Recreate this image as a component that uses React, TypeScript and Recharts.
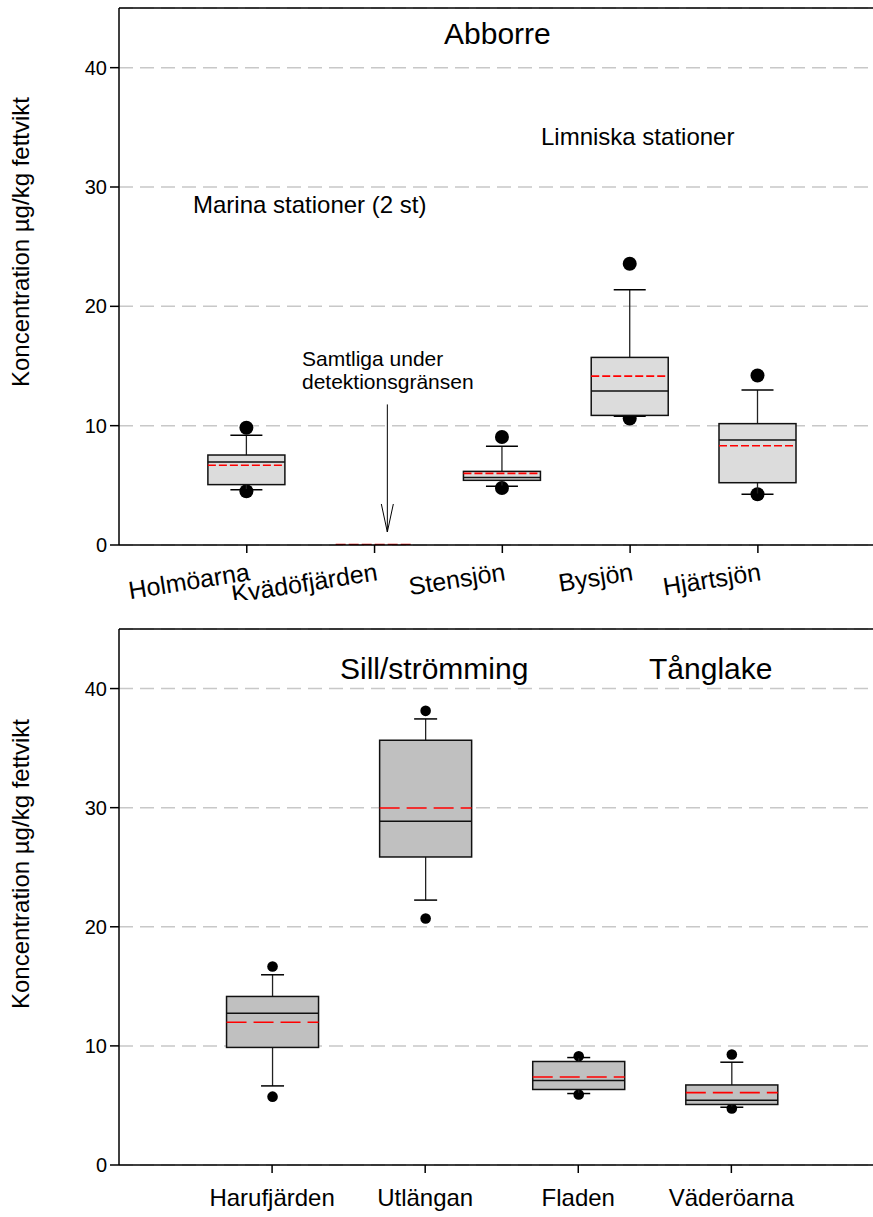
import React from 'react';
import { ComposedChart, Bar, XAxis, YAxis, CartesianGrid, ReferenceLine } from 'recharts';

const FONT = '"Liberation Sans", Arial, sans-serif';

// Abborre (upper panel)
const topStations = ['Holmöarna', 'Kvädöfjärden', 'Stensjön', 'Bysjön', 'Hjärtsjön'];
const topLowOut = [4.5, null, 4.78, 10.6, 4.25];
const topLowCap = [4.64, null, 4.92, 10.78, 4.25];
const topQ1 = [5.06, null, 5.42, 10.86, 5.22];
const topMedian = [6.95, null, 5.65, 12.9, 8.8];
const topMean = [6.68, 0, 6.0, 14.15, 8.32];
const topQ3 = [7.54, null, 6.17, 15.72, 10.17];
const topHighCap = [9.19, null, 8.27, 21.39, 12.98];
const topHighOut = [9.83, null, 9.05, 23.57, 14.21];

// Sill/strömming + Tånglake (lower panel)
const botStations = ['Harufjärden', 'Utlängan', 'Fladen', 'Väderöarna'];
const botLowOut = [5.74, 20.7, 5.92, 4.74];
const botLowCap = [6.64, 22.24, 6.0, 4.85];
const botQ1 = [9.87, 25.86, 6.34, 5.08];
const botMedian = [12.75, 28.85, 7.09, 5.44];
const botMean = [11.99, 29.97, 7.39, 6.08];
const botQ3 = [14.15, 35.66, 8.69, 6.72];
const botHighCap = [15.97, 37.45, 9.02, 8.63];
const botHighOut = [16.67, 38.13, 9.13, 9.28];

const yTicks = [0, 10, 20, 30, 40];

// arrow in the upper panel (data units)
const arrowX = 1.1;
const arrowFrom = 11.78;
const arrowTo = 1.09;

const build = (names, lowOut, lowCap, q1, med, mean, q3, highCap, highOut) =>
  names.map((name, i) => ({
    x: i,
    name,
    lowOut: lowOut[i],
    lowCap: lowCap[i],
    q1: q1[i],
    median: med[i],
    mean: mean[i],
    q3: q3[i],
    highCap: highCap[i],
    highOut: highOut[i],
  }));

const topData = build(topStations, topLowOut, topLowCap, topQ1, topMedian, topMean, topQ3, topHighCap, topHighOut);
const botData = build(botStations, botLowOut, botLowCap, botQ1, botMedian, botMean, botQ3, botHighCap, botHighOut);

const boxShape = (opt) => (props) => {
  const { x, y, width, height, payload: p } = props;
  const cx = x + width / 2;
  const lo = p.lowOut ?? 0;
  const hi = p.highOut ?? 0;
  const top = Math.min(y, y + height);
  const bottom = Math.max(y, y + height);
  if (hi === lo || p.q1 == null) {
    return (
      <line x1={x} x2={x + width} y1={bottom} y2={bottom} stroke="#e00000" strokeWidth={2.5} strokeDasharray="10 3" />
    );
  }
  const Y = (v) => bottom - ((v - lo) * (bottom - top)) / (hi - lo);
  const cw = opt.cap / 2;
  return (
    <g>
      <circle cx={cx} cy={Y(p.lowOut)} r={opt.r} fill="#000" />
      <circle cx={cx} cy={Y(p.highOut)} r={opt.r} fill="#000" />
      <line x1={cx} x2={cx} y1={Y(p.q3)} y2={Y(p.highCap)} stroke="#222" strokeWidth={1.3} />
      <line x1={cx} x2={cx} y1={Y(p.q1)} y2={Y(p.lowCap)} stroke="#222" strokeWidth={1.3} />
      <line x1={cx - cw} x2={cx + cw} y1={Y(p.highCap)} y2={Y(p.highCap)} stroke="#000" strokeWidth={1.5} />
      <line x1={cx - cw} x2={cx + cw} y1={Y(p.lowCap)} y2={Y(p.lowCap)} stroke="#000" strokeWidth={1.5} />
      <rect x={x} y={Y(p.q3)} width={width} height={Y(p.q1) - Y(p.q3)} fill={opt.fill} stroke="#111" strokeWidth={1.5} />
      <line x1={x} x2={x + width} y1={Y(p.median)} y2={Y(p.median)} stroke="#111" strokeWidth={1.5} />
      <line x1={x} x2={x + width} y1={Y(p.mean)} y2={Y(p.mean)} stroke="#ff0000" strokeWidth={1.6} strokeDasharray={opt.dash} />
    </g>
  );
};

const TopTick = ({ x, y, payload }) => {
  const tx = x + 4;
  const ty = y + 25;
  return (
    <text x={tx} y={ty} transform={`rotate(-9, ${tx}, ${ty})`} textAnchor="end" fontSize={25} fill="#000" fontFamily={FONT}>
      {topStations[payload.value]}
    </text>
  );
};

const BotTick = ({ x, y, payload }) => (
  <text x={x} y={y + 31} textAnchor="middle" fontSize={24} fill="#000" fontFamily={FONT}>
    {botStations[payload.value]}
  </text>
);

const arrowShape = (props) => {
  const { x1, y1, x2, y2 } = props;
  return (
    <g>
      <line x1={x1} y1={y1} x2={x2} y2={y2} stroke="#000" strokeWidth={1} />
      <polyline points={`${x2 - 6},${y2 - 28} ${x2},${y2} ${x2 + 6},${y2 - 28}`} fill="none" stroke="#000" strokeWidth={1} />
    </g>
  );
};

const yTickStyle = { fontSize: 20, fill: '#000', fontFamily: FONT };

const Panel = ({ data, width, height, marginTop, xHeight, domainMax, barSize, opt, tick, children }) => (
  <ComposedChart width={width} height={height} data={data} margin={{ top: marginTop, right: 15, left: 0, bottom: 0 }}>
    <CartesianGrid horizontal vertical={false} stroke="#c8c8c8" strokeWidth={1.5} strokeDasharray="14 7" />
    <XAxis
      dataKey="x"
      type="number"
      domain={[-1, domainMax]}
      ticks={data.map((d) => d.x)}
      allowDataOverflow
      height={xHeight}
      stroke="#000"
      strokeWidth={1.5}
      tickSize={8}
      tick={tick}
      interval={0}
    />
    <YAxis
      type="number"
      domain={[0, 45]}
      ticks={yTicks}
      allowDataOverflow
      width={119}
      stroke="#000"
      strokeWidth={1.5}
      tickSize={9}
      tickMargin={3}
      tick={yTickStyle}
    />
    <ReferenceLine y={45} stroke="#000" strokeWidth={1.5} />
    <Bar
      dataKey={(d) => [d.lowOut ?? 0, d.highOut ?? 0]}
      barSize={barSize}
      shape={boxShape(opt)}
      isAnimationActive={false}
    />
    {children}
  </ComposedChart>
);

const texts = [
  { t: 'Abborre', x: 444, y: 44, s: 30 },
  { t: 'Limniska stationer', x: 541, y: 145, s: 24 },
  { t: 'Marina stationer (2 st)', x: 193, y: 213, s: 24 },
  { t: 'Samtliga under', x: 302, y: 366, s: 21 },
  { t: 'detektionsgränsen', x: 302, y: 389, s: 21 },
  { t: 'Sill/strömming', x: 340, y: 679, s: 30 },
  { t: 'Tånglake', x: 649, y: 679, s: 30 },
];

export default function App() {
  return (
    <div style={{ position: 'fixed', left: 0, top: 0, width: 873, height: 1217, overflow: 'hidden', background: '#fff' }}>
      <div style={{ position: 'absolute', left: 0, top: 0, width: 873, height: 600, overflow: 'hidden' }}>
        <Panel
          data={topData}
          width={1100}
          height={600}
          marginTop={8}
          xHeight={55}
          domainMax={6.56}
          barSize={77}
          opt={{ r: 7, cap: 32, fill: '#dcdcdc', dash: '8 3' }}
          tick={<TopTick />}
        >
          <ReferenceLine
            segment={[{ x: arrowX, y: arrowFrom }, { x: arrowX, y: arrowTo }]}
            ifOverflow="visible"
            shape={arrowShape}
          />
        </Panel>
      </div>
      <div style={{ position: 'absolute', left: 0, top: 600, width: 873, height: 617, overflow: 'hidden' }}>
        <Panel
          data={botData}
          width={1100}
          height={617}
          marginTop={29}
          xHeight={52}
          domainMax={5.31}
          barSize={92}
          opt={{ r: 5.3, cap: 23, fill: '#c0c0c0', dash: '20 7' }}
          tick={<BotTick />}
        />
      </div>
      <svg width={873} height={1217} style={{ position: 'absolute', left: 0, top: 0, pointerEvents: 'none' }}>
        {texts.map((d) => (
          <text key={d.t} x={d.x} y={d.y} fontSize={d.s} fontFamily={FONT} fill="#000">
            {d.t}
          </text>
        ))}
        <text x={29} y={242} transform="rotate(-90, 29, 242)" textAnchor="middle" fontSize={24} fontFamily={FONT} fill="#000">
          Koncentration µg/kg fettvikt
        </text>
        <text x={29} y={864} transform="rotate(-90, 29, 864)" textAnchor="middle" fontSize={24} fontFamily={FONT} fill="#000">
          Koncentration µg/kg fettvikt
        </text>
      </svg>
    </div>
  );
}
